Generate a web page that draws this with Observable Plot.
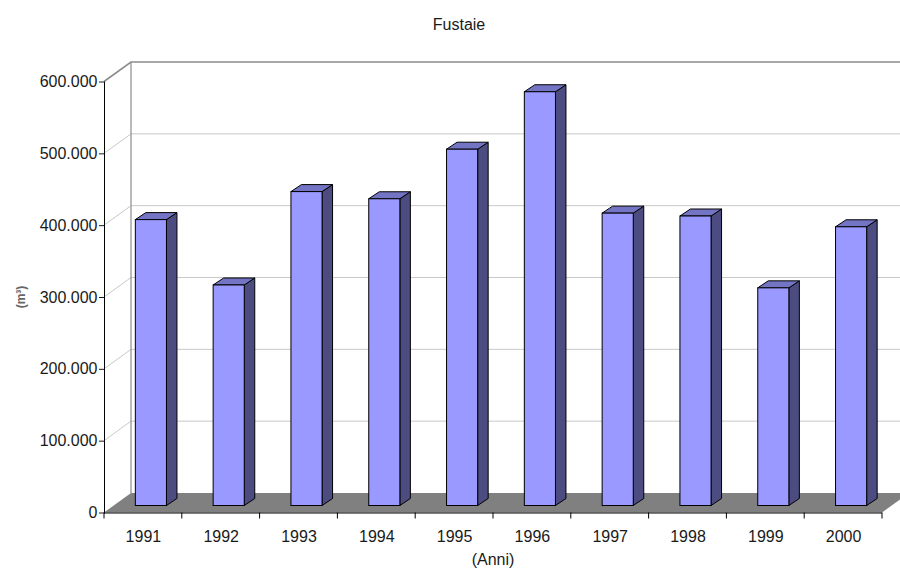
<!DOCTYPE html>
<html>
<head>
<meta charset="utf-8">
<script src="https://cdn.jsdelivr.net/npm/d3@7"></script>
<script src="https://cdn.jsdelivr.net/npm/@observablehq/plot@0.6"></script>
<style>
  html, body { margin: 0; padding: 0; background: #fff; }
  #chart svg { display: block; overflow: hidden; }
</style>
</head>
<body>
<div id="chart"></div>
<script>
// Annual volume of high forest (fustaie) harvested, in cubic metres
const years = ["1991", "1992", "1993", "1994", "1995", "1996", "1997", "1998", "1999", "2000"];
const volumes = [398000, 307000, 437000, 427000, 496000, 576000, 407000, 403000, 303000, 388000];
const yTicks = [0, 100000, 200000, 300000, 400000, 500000, 600000];

const title = "Fustaie";
const xLabel = "(Anni)";
const yLabel = "(m³)";

const rows = years.map((anno, i) => ({anno, volume: volumes[i]}));

// Pseudo-3D offsets (screen pixels): depth of the walls/floor, the bars' front plane and the bars' own depth
const WALL = {dx: 27, dy: -19.5};
const FACE = {dx: 8, dy: -7};
const BAR = {dx: 10.5, dy: -7};

const COLORS = {
  front: "#9999ff",
  top: "#7474c4",
  side: "#4c4c80",
  floor: "#808080",
  grid: "#c8c8c8",
  edge: "#8c8c8c"
};

const FONT = "'Liberation Sans Narrow', 'Arial Narrow', 'Liberation Sans', Arial, sans-serif";
const itFormat = d3.formatLocale({decimal: ",", thousands: ".", grouping: [3], currency: ["€", ""]}).format(",d");

// Floor, back wall and side wall with their gridlines
function walls(index, {x, y}, values, dims) {
  const left = dims.marginLeft;
  const right = dims.width - dims.marginRight;
  const y0 = y(0);
  const top = d3.max(yTicks);
  const g = d3.create("svg:g");
  g.append("path")
    .attr("d", `M${left},${y0}L${right},${y0}L${right + WALL.dx},${y0 + WALL.dy}L${left + WALL.dx},${y0 + WALL.dy}Z`)
    .attr("fill", COLORS.floor);
  for (const t of yTicks.filter((t) => t > 0)) {
    const yf = y(t), yb = y(t) + WALL.dy;
    const isTop = t === top;
    g.append("path")
      .attr("d", `M${left},${yf}L${left + WALL.dx},${yb}L${right + WALL.dx},${yb}`)
      .attr("fill", "none")
      .attr("stroke", isTop ? COLORS.edge : COLORS.grid)
      .attr("stroke-width", isTop ? 1.6 : 1);
  }
  g.append("line")
    .attr("x1", left + WALL.dx).attr("x2", left + WALL.dx)
    .attr("y1", y(top) + WALL.dy).attr("y2", y0 + WALL.dy)
    .attr("stroke", COLORS.edge).attr("stroke-width", 1.2);
  return g.node();
}

// Top and side faces of each bar
function barSides(index, {x, y}) {
  const bw = x.bandwidth();
  const g = d3.create("svg:g").attr("stroke", "#000").attr("stroke-width", 1).attr("stroke-linejoin", "round");
  for (const d of rows) {
    const L = x(d.anno) + FACE.dx;
    const R = L + bw;
    const T = y(d.volume) + FACE.dy;
    const B = y(0) + FACE.dy;
    g.append("path")
      .attr("d", `M${R},${T}L${R + BAR.dx},${T + BAR.dy}L${R + BAR.dx},${B + BAR.dy}L${R},${B}Z`)
      .attr("fill", COLORS.side);
    g.append("path")
      .attr("d", `M${L},${T}L${R},${T}L${R + BAR.dx},${T + BAR.dy}L${L + BAR.dx},${T + BAR.dy}Z`)
      .attr("fill", COLORS.top);
  }
  return g.node();
}

// Category boundary ticks under the x axis
function boundaryTicks(index, {x, y}) {
  const bw = x.bandwidth();
  const step = x.step();
  const start = x(years[0]) - (step - bw) / 2;
  const y0 = y(0);
  const g = d3.create("svg:g").attr("stroke", "#000");
  for (let i = 0; i <= years.length; ++i) {
    const bx = start + i * step;
    g.append("line").attr("x1", bx).attr("x2", bx).attr("y1", y0).attr("y2", y0 + 6);
  }
  return g.node();
}

// Title and axis titles
function titles(index, scales, values, dims) {
  const g = d3.create("svg:g").attr("font-family", FONT).attr("fill", "#1a1a1a");
  g.append("text").attr("x", 459).attr("y", 30).attr("text-anchor", "middle").attr("font-size", 16).text(title);
  const cx = (dims.marginLeft + dims.width - dims.marginRight) / 2;
  g.append("text").attr("x", cx).attr("y", 565).attr("text-anchor", "middle").attr("font-size", 16).text(xLabel);
  g.append("text")
    .attr("transform", `translate(25,297) rotate(-90)`)
    .attr("text-anchor", "middle")
    .attr("font-size", 12)
    .attr("font-weight", "bold")
    .attr("fill", "#666")
    .text(yLabel);
  return g.node();
}

const chart = Plot.plot({
  width: 900,
  height: 571,
  marginLeft: 104,
  marginRight: 18,
  marginTop: 81.5,
  marginBottom: 58.5,
  style: {fontFamily: FONT, fontSize: "16px", color: "#1a1a1a", background: "#fff"},
  x: {type: "band", domain: years, paddingInner: 0.6, paddingOuter: 0.3, round: false, label: null},
  y: {domain: [0, 600000], label: null},
  marks: [
    walls,
    barSides,
    Plot.barY(rows, {x: "anno", y: "volume", fill: COLORS.front, stroke: "#000", strokeWidth: 1, dx: FACE.dx, dy: FACE.dy}),
    Plot.frame({anchor: "left", stroke: "#000"}),
    Plot.ruleY([0], {stroke: "#000"}),
    boundaryTicks,
    Plot.axisY({ticks: yTicks, tickFormat: (d) => itFormat(d), tickSize: 5, tickPadding: 2, fontSize: 16, label: null}),
    Plot.axisX({tickSize: 0, tickPadding: 18, fontSize: 16, label: null}),
    titles
  ]
});

document.getElementById("chart").appendChild(chart);
</script>
</body>
</html>
